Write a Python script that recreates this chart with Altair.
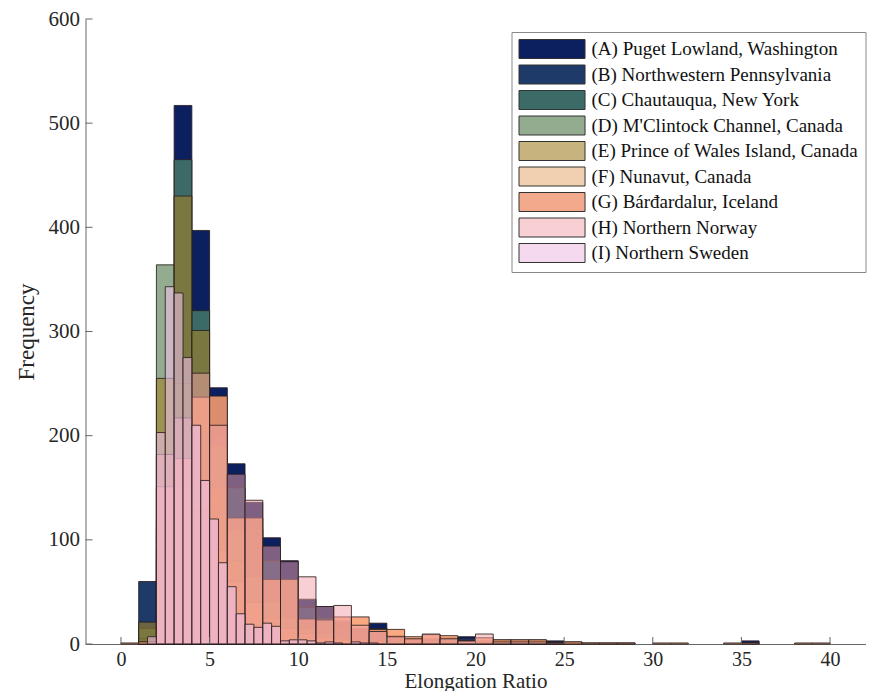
import altair as alt
import pandas as pd

names = [
    "(A) Puget Lowland, Washington",
    "(B) Northwestern Pennsylvania",
    "(C) Chautauqua, New York",
    "(D) M'Clintock Channel, Canada",
    "(E) Prince of Wales Island, Canada",
    "(F) Nunavut, Canada",
    "(G) Bárđardalur, Iceland",
    "(H) Northern Norway",
    "(I) Northern Sweden",
]
legend_colors = ["#0c1f5e", "#1d3a69", "#3c6b67", "#93ac8f", "#c7b37e",
                 "#f0d0b0", "#f3a98b", "#f8d0d3", "#f5d9ef"]
fill_colors = ["#0c1f5e", "#1d3a69", "#3c6b67", "#4b7544", "#a28028",
               "#e6b17b", "#f89e70", "#f1a1a7", "#eec0e4"]
fill_alpha = [1.0, 1.0, 1.0, 0.6, 0.6, 0.6, 0.88, 0.5, 0.6]

bin_start = [0, 0, 0, 0, 0, 0, 0, 0, 1.5]
bin_width = [1, 1, 1, 1, 1, 1, 1, 1, 0.5]

A = [0, 0, 120, 517, 397, 246, 173, 136, 102, 80, 43, 36, 22, 15, 20, 8, 5, 5,
     6, 7, 3, 2, 2, 2, 3, 2, 1, 1, 1, 0, 0, 0, 0, 0, 0, 3]
B = [0, 60, 90, 300, 250, 200, 150, 110, 80, 60, 35, 25, 15, 12, 15, 6, 4, 3,
     4, 5, 2, 1, 1, 1, 2, 1]
C = [0, 15, 110, 465, 320, 190, 110, 65, 40, 25, 15, 10, 6, 4, 3, 2, 1]
D = [0, 5, 364, 250, 130, 70, 35, 18, 9, 5, 3, 2, 1]
E = [0, 21, 255, 430, 301, 150, 80, 40, 20, 10, 6, 4, 2, 1]
F = [0, 2, 80, 150, 120, 90, 60, 40, 25, 15, 10, 6, 4, 3, 2, 2, 1, 1, 0, 0, 0,
     4, 4, 4]
G = [1, 2, 151, 178, 237, 238, 121, 121, 62, 62, 24, 23, 26, 26, 14, 14, 7, 9,
     8, 3, 6, 4, 4, 4, 1, 2, 1, 1, 1, 0, 1, 1, 0, 0, 1, 1, 0, 0, 1, 1]
H = [0, 0, 182, 217, 260, 210, 163, 138, 94, 79, 64.5, 36, 37, 18, 12, 7, 5,
     9.6, 5, 3, 9.6, 2, 2, 2, 1]
I = [7, 203, 343, 337, 275, 210, 157, 120, 78, 55, 29, 19, 16, 20, 17, 3, 4, 4,
     3, 1, 2, 1, 0, 2, 1, 1]
counts = [A, B, C, D, E, F, G, H, I]

x_ticks = [0, 5, 10, 15, 20, 25, 30, 35, 40]
y_ticks = [0, 100, 200, 300, 400, 500, 600]

FONT = "Liberation Serif"
PLOT_H = 625
xscale = alt.Scale(domain=[-2, 42], nice=False, zero=False)
yscale = alt.Scale(domain=[0, 600], nice=False)
xaxis = alt.Axis(values=x_ticks, title="Elongation Ratio", ticks=False, tickSize=0,
                 grid=False, labelPadding=5, titlePadding=1, format="d",
                 labelFlush=False)
yaxis = alt.Axis(values=y_ticks, title="Frequency", ticks=False, tickSize=0,
                 grid=False, labelPadding=6, titlePadding=10, format="d")

layers = []
for k in range(len(names)):
    rows = []
    for i, c in enumerate(counts[k]):
        if c > 0:
            rows.append({"x0": bin_start[k] + i * bin_width[k],
                         "x1": bin_start[k] + (i + 1) * bin_width[k],
                         "n": c, "base": 0})
    df = pd.DataFrame(rows)
    layers.append(
        alt.Chart(df).mark_rect(
            fill=fill_colors[k], fillOpacity=fill_alpha[k],
            stroke="#2b2020", strokeWidth=1, strokeOpacity=0.85
        ).encode(
            x=alt.X("x0:Q", scale=xscale, axis=xaxis),
            x2="x1:Q",
            y=alt.Y("n:Q", scale=yscale, axis=yaxis),
            y2="base:Q",
        )
    )

xt = alt.Chart(pd.DataFrame({"v": x_ticks})).mark_rule(color="#666", strokeWidth=1).encode(
    x=alt.X("v:Q", scale=xscale, axis=xaxis), y=alt.value(PLOT_H), y2=alt.value(PLOT_H - 7))
yt = alt.Chart(pd.DataFrame({"v": y_ticks})).mark_rule(color="#666", strokeWidth=1).encode(
    y=alt.Y("v:Q", scale=yscale, axis=yaxis), x=alt.value(0), x2=alt.value(7))

leg = alt.Chart(pd.DataFrame({"name": names})).mark_square(opacity=0).encode(
    x=alt.value(0), y=alt.value(0),
    color=alt.Color("name:N", scale=alt.Scale(domain=names, range=legend_colors),
                    legend=alt.Legend(
                        title=None, orient="none", legendX=426, legendY=13,
                        symbolType="M-1,-1L5.95,-1L5.95,1L-1,1Z", symbolSize=361,
                        symbolStrokeColor="#333", symbolStrokeWidth=1, symbolOpacity=1,
                        labelFont=FONT, labelFontSize=19, labelColor="#111",
                        labelLimit=500, labelOffset=53, rowPadding=1.5, padding=7,
                        strokeColor="#888", fillColor="white", cornerRadius=0)))

chart = alt.layer(*layers, xt, yt, leg).properties(
    width=780, height=PLOT_H,
    autosize=alt.AutoSizeParams(type="none"),
    padding={"left": 77.5, "top": 11, "right": 1.5, "bottom": 47},
).configure_axis(
    labelFont=FONT, labelFontSize=20, titleFont=FONT, titleFontSize=21,
    titleFontWeight="normal", domainColor="#666", labelColor="#262626",
    titleColor="#262626",
).configure_axisY(labelFontSize=21, titleFontSize=23).configure_view(stroke=None)

chart.save("out.html", embed_options={"renderer": "svg", "actions": False})
